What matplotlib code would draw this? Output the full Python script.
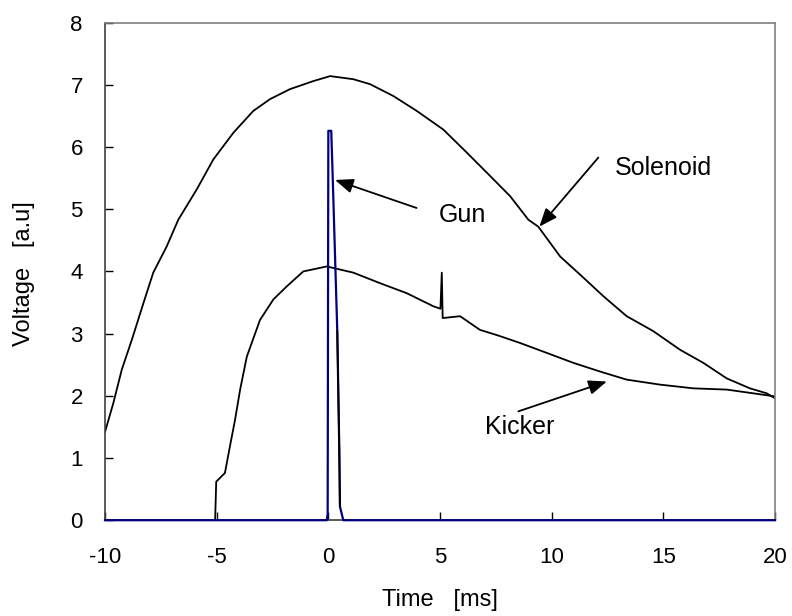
import numpy as np
import matplotlib
matplotlib.use("Agg")
import matplotlib.pyplot as plt

plt.rcParams['font.family'] = ['Liberation Sans', 'DejaVu Sans']
plt.rcParams['axes.unicode_minus'] = False

# Solenoid trace
sol_t = [-10, -9.63, -9.25, -8.80, -8.28, -7.84, -7.24, -6.72, -5.89, -5.15, -4.25, -3.36,
         -2.61, -1.72, -0.67, 0.08, 1.12, 1.87, 2.91, 3.96, 5.15, 6.20, 7.09, 8.14, 8.96,
         9.40, 10.38, 11.42, 12.32, 13.36, 14.55, 15.75, 16.79, 17.84, 18.88, 19.63, 20]
sol_v = [1.42, 1.88, 2.42, 2.90, 3.49, 3.98, 4.40, 4.83, 5.32, 5.80, 6.23, 6.58,
         6.77, 6.93, 7.06, 7.14, 7.09, 7.01, 6.82, 6.58, 6.28, 5.91, 5.59, 5.21, 4.83,
         4.72, 4.24, 3.90, 3.60, 3.28, 3.04, 2.74, 2.53, 2.28, 2.12, 2.04, 1.96]

# Kicker trace
kick_t = [-10, -5.07, -5.02, -4.63, -4.40, -4.18, -3.95, -3.65, -3.06, -2.46, -1.86, -1.12,
          -0.07, 1.12, 2.32, 3.51, 4.70, 5.02, 5.08, 5.12, 5.90, 6.79, 7.60, 8.58, 9.78,
          10.97, 12.17, 13.36, 14.85, 16.35, 17.84, 19.03, 20]
kick_v = [0, 0, 0.62, 0.76, 1.20, 1.61, 2.10, 2.63, 3.22, 3.55, 3.76, 4.00,
          4.08, 3.98, 3.81, 3.65, 3.44, 3.40, 3.98, 3.25, 3.28, 3.06, 2.97, 2.85, 2.69,
          2.53, 2.39, 2.26, 2.18, 2.12, 2.10, 2.04, 1.99]

# Gun trace
gun_t = [-10, -0.07, -0.03, 0.0, 0.13, 0.18, 0.40, 0.49, 0.52, 0.67, 20]
gun_v = [0, 0, 0.10, 6.26, 6.26, 5.70, 3.04, 1.14, 0.22, 0, 0]

fig = plt.figure(figsize=(7.92, 6.16), dpi=100)
ax = fig.add_axes([0.1326, 0.1555, 0.8459, 0.8078])

ax.plot(sol_t, sol_v, color='black', lw=1.3)
ax.plot(kick_t, kick_v, color='black', lw=1.3)
ax.plot(gun_t, gun_v, color='#000080', lw=1.6, clip_on=False, zorder=3)
ax.plot(gun_t[6:9], gun_v[6:9], color='black', lw=1.3, zorder=4)

ax.set_xlim(-10, 20)
ax.set_ylim(0, 8)
ax.set_xticks(np.arange(-10, 21, 5))
ax.set_yticks(np.arange(0, 9, 1))
ax.tick_params(axis='both', direction='in', length=6, width=1, labelsize=16)
ax.tick_params(axis='x', pad=19)
ax.tick_params(axis='y', pad=16)

for s in ['top', 'right']:
    ax.spines[s].set_color('#808080')
    ax.spines[s].set_linewidth(1.2)
for s in ['left', 'bottom']:
    ax.spines[s].set_color('#404040')
    ax.spines[s].set_linewidth(1.2)

ax.set_xlabel('Time   [ms]', fontsize=17)
ax.set_ylabel('Voltage   [a.u]', fontsize=17)
ax.xaxis.set_label_coords(0.5, -0.139)
ax.yaxis.set_label_coords(-0.104, 0.495)

arrow = dict(arrowstyle='-|>,head_length=0.55,head_width=0.22', color='black',
             lw=1.3, mutation_scale=20, shrinkA=0, shrinkB=0)
ax.annotate('', xy=(0.30, 5.47), xytext=(3.95, 5.02), arrowprops=arrow)
ax.text(4.93, 4.90, 'Gun', fontsize=18, va='center', ha='left')
ax.annotate('', xy=(9.45, 4.72), xytext=(12.09, 5.83), arrowprops=arrow)
ax.text(12.84, 5.66, 'Solenoid', fontsize=18, va='center', ha='left')
ax.annotate('', xy=(12.47, 2.23), xytext=(8.51, 1.75), arrowprops=arrow)
ax.text(7.02, 1.50, 'Kicker', fontsize=18, va='center', ha='left')

fig.savefig('out.png', dpi=100)
